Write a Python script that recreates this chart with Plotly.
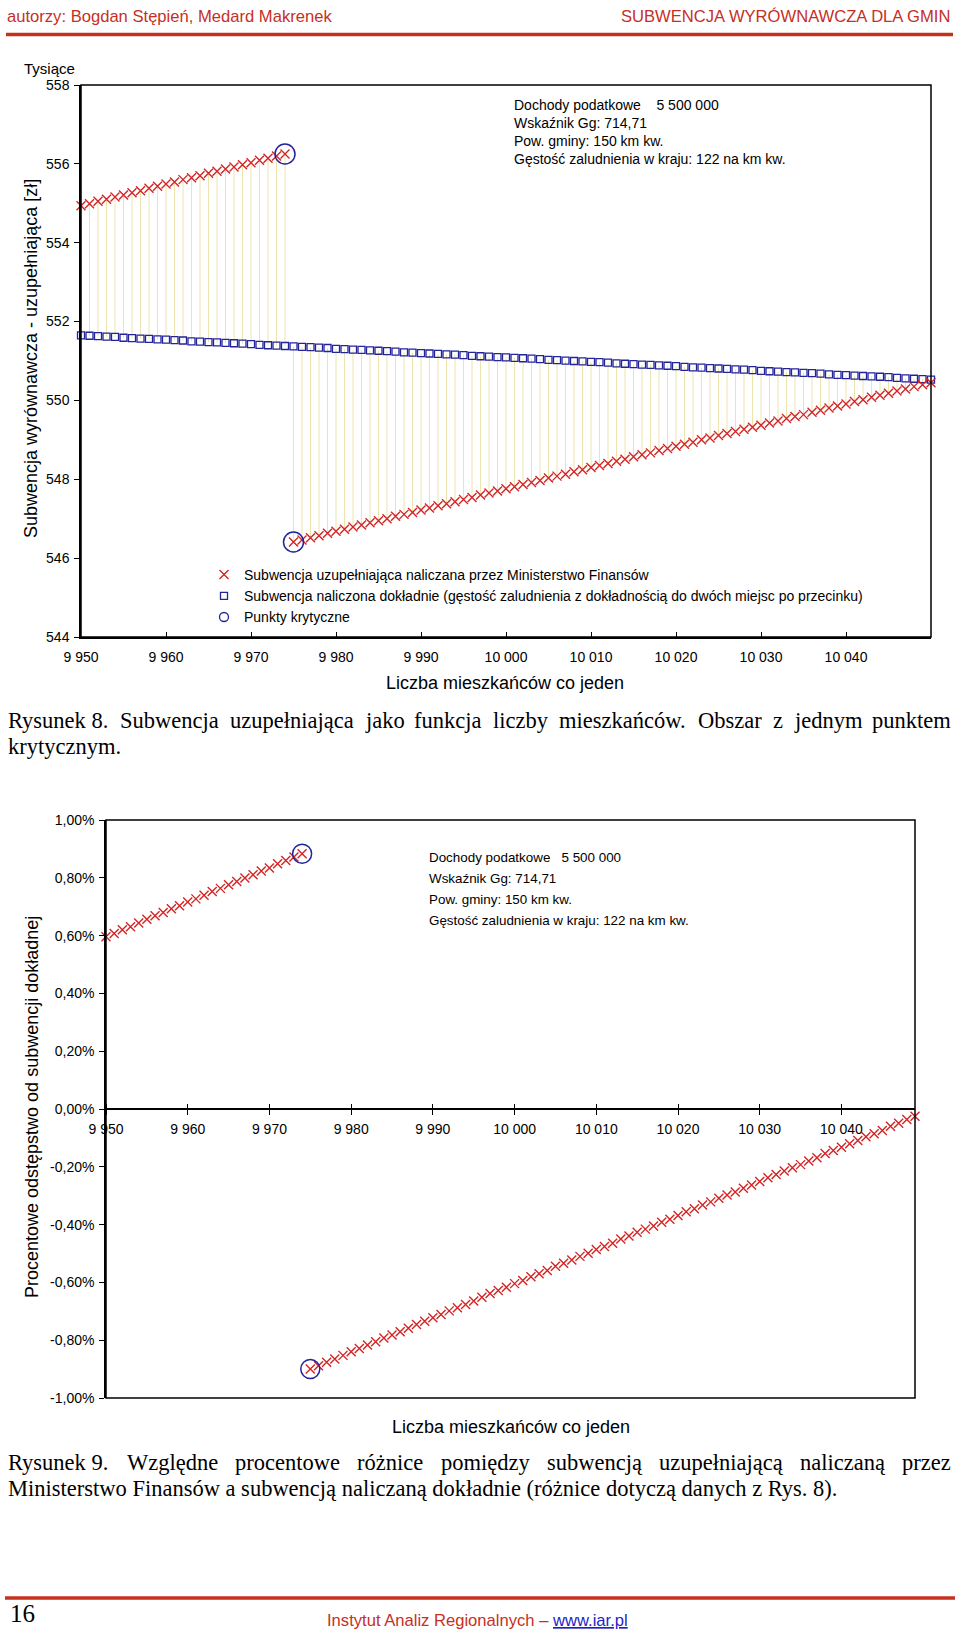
import plotly.graph_objects as go

# ---------------- data ----------------
population = list(range(9950, 10051))

# Subwencja uzupełniająca naliczana przez MF [tys. zł]
subsidy_mf = [
    554.94, 554.99, 555.05, 555.10, 555.16, 555.21, 555.27, 555.32, 555.38, 555.43,
    555.49, 555.54, 555.60, 555.65, 555.70, 555.76, 555.81, 555.87, 555.92, 555.98,
    556.03, 556.09, 556.14, 556.20, 556.25,
    546.41, 546.46, 546.52, 546.57, 546.63, 546.68, 546.73, 546.79, 546.84, 546.90,
    546.95, 547.00, 547.06, 547.11, 547.16, 547.22, 547.27, 547.33, 547.38, 547.43,
    547.49, 547.54, 547.60, 547.65, 547.70, 547.76, 547.81, 547.87, 547.92, 547.97,
    548.03, 548.08, 548.13, 548.19, 548.24, 548.30, 548.35, 548.40, 548.46, 548.51,
    548.57, 548.62, 548.67, 548.73, 548.78, 548.84, 548.89, 548.94, 549.00, 549.05,
    549.11, 549.16, 549.21, 549.27, 549.32, 549.37, 549.43, 549.48, 549.54, 549.59,
    549.64, 549.70, 549.75, 549.81, 549.86, 549.91, 549.97, 550.02, 550.08, 550.13,
    550.18, 550.24, 550.29, 550.35, 550.40, 550.45,
]

# Subwencja naliczona dokładnie [tys. zł]
subsidy_exact = [
    551.65, 551.64, 551.63, 551.62, 551.61, 551.59, 551.58, 551.57, 551.56, 551.55,
    551.54, 551.53, 551.52, 551.50, 551.49, 551.48, 551.47, 551.46, 551.45, 551.44,
    551.43, 551.41, 551.40, 551.39, 551.38, 551.37, 551.36, 551.35, 551.34, 551.33,
    551.31, 551.30, 551.29, 551.28, 551.27, 551.26, 551.25, 551.24, 551.22, 551.21,
    551.20, 551.19, 551.18, 551.17, 551.16, 551.15, 551.13, 551.12, 551.11, 551.10,
    551.09, 551.08, 551.07, 551.06, 551.05, 551.03, 551.02, 551.01, 551.00, 550.99,
    550.98, 550.97, 550.96, 550.94, 550.93, 550.92, 550.91, 550.90, 550.89, 550.88,
    550.87, 550.85, 550.84, 550.83, 550.82, 550.81, 550.80, 550.79, 550.78, 550.77,
    550.75, 550.74, 550.73, 550.72, 550.71, 550.70, 550.69, 550.68, 550.66, 550.65,
    550.64, 550.63, 550.62, 550.61, 550.60, 550.59, 550.57, 550.56, 550.55, 550.54,
    550.53,
]

critical_population = [9974, 9975]

# percentage deviation (chart 2 spans 9950 .. 10049)
pct_population = population[:100]
pct_deviation = [(m - e) / e for m, e in zip(subsidy_mf[:100], subsidy_exact[:100])]
critical_pct = [pct_deviation[pct_population.index(p)] for p in critical_population]
critical_mf = [subsidy_mf[population.index(p)] for p in critical_population]

x_tickvals = list(range(9950, 10051, 10))
x_ticktext = ['9 950', '9 960', '9 970', '9 980', '9 990', '10 000', '10 010',
              '10 020', '10 030', '10 040', '']
y1_tickvals = [544, 546, 548, 550, 552, 554, 556, 558]
y2_tickvals = [-0.010, -0.008, -0.006, -0.004, -0.002, 0.0, 0.002, 0.004, 0.006, 0.008, 0.010]
y2_ticktext = ['-1,00%', '-0,80%', '-0,60%', '-0,40%', '-0,20%', '0,00%',
               '0,20%', '0,40%', '0,60%', '0,80%', '1,00%']

info_lines = ['Dochody podatkowe', 'Wskaźnik Gg: 714,71', 'Pow. gminy: 150 km kw.',
              'Gęstość zaludnienia w kraju: 122 na km kw.']
info_income = '5 500 000'

legend_names = ['Subwencja uzupełniająca naliczana przez Ministerstwo Finansów',
                'Subwencja naliczona dokładnie (gęstość zaludnienia z dokładnością do dwóch miejsc po przecinku)',
                'Punkty krytyczne']

caption8 = ['Rysunek\u00a08. Subwencja uzupełniająca jako funkcja liczby mieszkańców. Obszar z jednym punktem',
            'krytycznym.']
caption9 = ['Rysunek\u00a09. Względne procentowe różnice pomiędzy subwencją uzupełniającą naliczaną przez',
            'Ministerstwo Finansów a subwencją naliczaną dokładnie (różnice dotyczą danych z Rys. 8).']

# ---------------- style ----------------
W, H = 960, 1631
RED = '#d42424'
BLUE = '#23239c'
YEL = '#ece4ac'
HDR = '#c6301f'
SANS = 'Liberation Sans, Arial, sans-serif'
SERIF = 'Liberation Serif, Times New Roman, serif'


def px(x):
    return x / W


def py(y):
    return 1 - y / H


fig = go.Figure()

# ---- chart 1 ----
drop_x, drop_y = [], []
for xv, m, e in zip(population, subsidy_mf, subsidy_exact):
    drop_x += [xv, xv, None]
    drop_y += [m, e, None]
fig.add_trace(go.Scatter(x=drop_x, y=drop_y, mode='lines', line=dict(color=YEL, width=1),
                         showlegend=False, hoverinfo='skip', xaxis='x', yaxis='y'))
fig.add_trace(go.Scatter(x=population, y=subsidy_exact, mode='markers', showlegend=False,
                         marker=dict(symbol='square-open', size=7, color=BLUE, line=dict(width=1.3, color=BLUE)),
                         xaxis='x', yaxis='y', cliponaxis=False))
fig.add_trace(go.Scatter(x=population, y=subsidy_mf, mode='markers', showlegend=False,
                         marker=dict(symbol='x-thin', size=9, color=RED, line=dict(width=1.4, color=RED)),
                         xaxis='x', yaxis='y', cliponaxis=False))
fig.add_trace(go.Scatter(x=critical_population, y=critical_mf, mode='markers', showlegend=False,
                         marker=dict(symbol='circle-open', size=20, color=BLUE, line=dict(width=1.5, color=BLUE)),
                         xaxis='x', yaxis='y', cliponaxis=False))
# legend entries
fig.add_trace(go.Scatter(x=[None], y=[None], mode='markers', name=legend_names[0],
                         marker=dict(symbol='x-thin', size=9, color=RED, line=dict(width=1.4, color=RED)),
                         xaxis='x', yaxis='y'))
fig.add_trace(go.Scatter(x=[None], y=[None], mode='markers', name=legend_names[1],
                         marker=dict(symbol='square-open', size=7, color=BLUE, line=dict(width=1.3, color=BLUE)),
                         xaxis='x', yaxis='y'))
fig.add_trace(go.Scatter(x=[None], y=[None], mode='markers', name=legend_names[2],
                         marker=dict(symbol='circle-open', size=9, color=BLUE, line=dict(width=1.3, color=BLUE)),
                         xaxis='x', yaxis='y'))

# ---- chart 2 ----
fig.add_trace(go.Scatter(x=pct_population, y=pct_deviation, mode='markers', showlegend=False,
                         marker=dict(symbol='x-thin', size=9, color=RED, line=dict(width=1.4, color=RED)),
                         xaxis='x2', yaxis='y2', cliponaxis=False))
fig.add_trace(go.Scatter(x=critical_population, y=critical_pct, mode='markers', showlegend=False,
                         marker=dict(symbol='circle-open', size=19, color=BLUE, line=dict(width=1.5, color=BLUE)),
                         xaxis='x2', yaxis='y2', cliponaxis=False))
fig.add_trace(go.Scatter(x=[None], y=[None], mode='markers', showlegend=False,
                         xaxis='x3', yaxis='y2'))

d1x = [px(81), px(931)]
d1y = [py(637), py(85)]
d2x = [px(106), px(915)]
d2y = [py(1398), py(820)]
zero2 = (d2y[0] + d2y[1]) / 2

axis_font = dict(family=SANS, size=14, color='black')
fig.update_layout(
    width=W, height=H, margin=dict(l=0, r=0, t=0, b=0, autoexpand=False),
    paper_bgcolor='white', plot_bgcolor='white',
    xaxis=dict(domain=d1x, anchor='y', range=[9950, 10050], tickvals=x_tickvals, ticktext=x_ticktext,
               showgrid=False, zeroline=False, showline=True, linecolor='black', linewidth=1.5,
               ticks='inside', ticklen=5, tickcolor='black', tickfont=axis_font, ticklabelstandoff=6),
    yaxis=dict(domain=d1y, anchor='x', range=[544, 558], tickvals=y1_tickvals,
               showgrid=False, zeroline=False, showline=True, linecolor='black', linewidth=1.5,
               ticks='outside', ticklen=5, tickcolor='black', tickfont=axis_font, ticklabelstandoff=2),
    xaxis2=dict(domain=d2x, anchor='free', position=zero2, range=[9950, 10049],
                tickvals=x_tickvals[:-1], ticktext=x_ticktext[:-1],
                showgrid=False, zeroline=False, showline=True, linecolor='black', linewidth=1.5,
                ticks='outside', ticklen=5, tickcolor='black', tickfont=axis_font, ticklabelstandoff=2),
    xaxis3=dict(domain=d2x, anchor='free', position=zero2, overlaying='x2', side='top',
                range=[9950, 10049], tickvals=x_tickvals[:-1], showticklabels=False,
                showgrid=False, zeroline=False, showline=False,
                ticks='outside', ticklen=5, tickcolor='black'),
    yaxis2=dict(domain=d2y, anchor='x2', range=[-0.01, 0.01], tickvals=y2_tickvals, ticktext=y2_ticktext,
                showgrid=False, zeroline=False, showline=True, linecolor='black', linewidth=1.5,
                ticks='outside', ticklen=5, tickcolor='black', tickfont=axis_font, ticklabelstandoff=2),
    legend=dict(x=px(204), y=py(559), xanchor='left', yanchor='top', bgcolor='rgba(0,0,0,0)',
                font=dict(family=SANS, size=14, color='black'), tracegroupgap=0, itemwidth=30),
    showlegend=True,
)

shapes = [
    dict(type='rect', xref='x domain', yref='y domain', x0=0, x1=1, y0=0, y1=1,
         line=dict(color='black', width=1.5)),
    dict(type='rect', xref='x2 domain', yref='y2 domain', x0=0, x1=1, y0=0, y1=1,
         line=dict(color='black', width=1.5)),
    dict(type='line', xref='paper', yref='paper', x0=px(6), x1=px(953), y0=py(34.5), y1=py(34.5),
         line=dict(color=HDR, width=3.5)),
    dict(type='line', xref='paper', yref='paper', x0=px(5), x1=px(955), y0=py(1598), y1=py(1598),
         line=dict(color=HDR, width=3.5)),
]
fig.update_layout(shapes=shapes)

ann = []


def text(t, x, y, size, family=SANS, color='black', xanchor='left', angle=0):
    ann.append(dict(text=t, x=px(x), y=py(y), xref='paper', yref='paper', showarrow=False,
                    xanchor=xanchor, yanchor='middle', textangle=angle, borderpad=0,
                    font=dict(family=family, size=size, color=color)))


# header / footer
text('autorzy: Bogdan Stępień, Medard Makrenek', 6, 16.5, 16.6, color=HDR)
text('SUBWENCJA WYRÓWNAWCZA DLA GMIN', 951, 16.5, 16.6, color=HDR, xanchor='right')
text('16', 9, 1613, 25, family=SERIF)
text('Instytut Analiz Regionalnych – <span style="color:#1f1fc4;text-decoration:underline">www.iar.pl</span>',
     477, 1620, 16.6, color=HDR, xanchor='center')

# chart 1 texts
text('Tysiące', 49, 68, 15, xanchor='center')
text('Subwencja wyrównawcza - uzupełniająca [zł]', 31, 359, 18, xanchor='center', angle=-90)
text('Liczba mieszkańców co jeden', 505, 683, 18, xanchor='center')
for i, line in enumerate(info_lines):
    t = line + ('\u00a0' * 4 + info_income if i == 0 else '')
    text(t, 513, 105 + i * 17.9, 14)

# chart 2 texts
text('Procentowe odstępstwo od subwencji dokładnej', 32, 1107, 18, xanchor='center', angle=-90)
text('Liczba mieszkańców co jeden', 511, 1427, 18, xanchor='center')
for i, line in enumerate(info_lines):
    t = line + ('\u00a0' * 3 + info_income if i == 0 else '')
    text(t, 428, 858 + i * 20.7, 13.4)

# captions (justified, Times metrics)
TNR = {' ': 250, '\u00a0': 250, 'a': 444, 'b': 500, 'c': 444, 'd': 500, 'e': 444, 'f': 333, 'g': 500,
       'h': 500, 'i': 278, 'j': 278, 'k': 500, 'l': 278, 'm': 778, 'n': 500, 'o': 500, 'p': 500,
       'q': 500, 'r': 333, 's': 389, 't': 278, 'u': 500, 'v': 500, 'w': 722, 'x': 500, 'y': 500,
       'z': 444, 'R': 667, 'S': 556, 'O': 722, 'M': 889, 'F': 556, 'W': 944, '.': 250, ',': 250,
       '(': 333, ')': 333, '8': 500, '9': 500, 'ł': 278, 'ą': 444, 'ę': 444, 'ó': 500, 'ż': 444,
       'ń': 500, 'ś': 389, 'ć': 444, 'ź': 444}
CAP = 22.5


def tw(s):
    return sum(TNR.get(c, 500) for c in s) / 1000 * CAP


def justified(line, y, x0=7, x1=950):
    words = line.split(' ')
    total = sum(tw(w) for w in words)
    gap = (x1 - x0 - total) / (len(words) - 1)
    x = x0
    for w in words:
        text(w, x, y, CAP, family=SERIF)
        x += tw(w) + gap


justified(caption8[0], 720)
text(caption8[1], 7, 746, CAP, family=SERIF)
justified(caption9[0], 1462)
text(caption9[1], 7, 1488, CAP, family=SERIF)

fig.update_layout(annotations=ann)
fig.write_html('out.html', config={'displayModeBar': False},
               post_script="document.body.style.margin='0px';")
